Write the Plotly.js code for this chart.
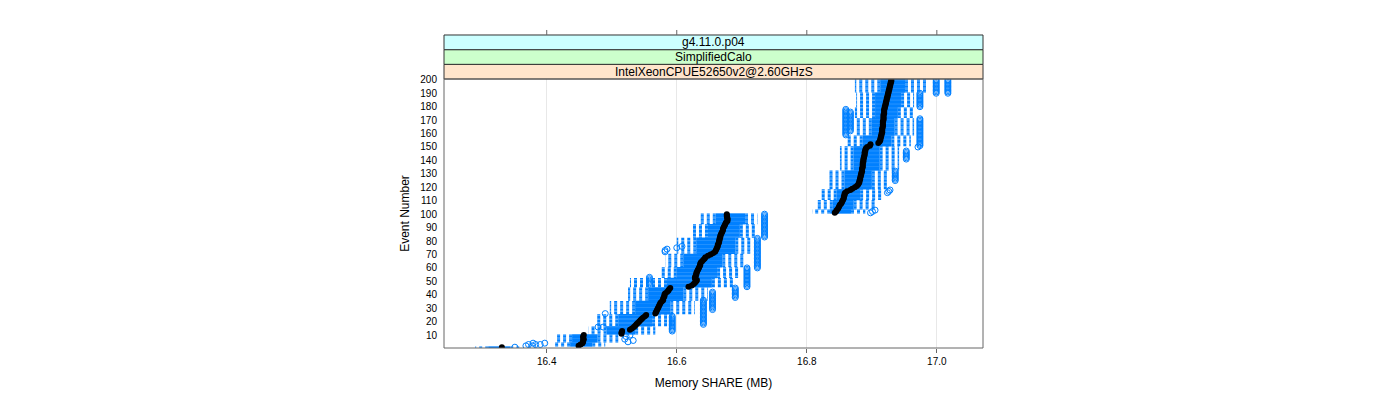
<!DOCTYPE html>
<html><head><meta charset="utf-8">
<script src="https://cdn.plot.ly/plotly-3.0.1.min.js"></script>
<style>html,body{margin:0;padding:0;background:#fff}</style>
</head><body><div id="chart" style="width:1400px;height:400px"></div>
<script>
const stripLabels = ["IntelXeonCPUE52650v2@2.60GHzS", "SimplifiedCalo", "g4.11.0.p04"];
const xTickVals = [16.4, 16.6, 16.8, 17.0];
const xTickText = ["16.4", "16.6", "16.8", "17.0"];
const yTickVals = [10,20,30,40,50,60,70,80,90,100,110,120,130,140,150,160,170,180,190,200];

const eventNumber = [
 1,2,3,4,5,6,7,8,9,10,11,12,13,14,15,16,17,18,19,20,
 21,22,23,24,25,26,27,28,29,30,31,32,33,34,35,36,37,38,39,40,
 41,42,43,44,45,46,47,48,49,50,51,52,53,54,55,56,57,58,59,60,
 61,62,63,64,65,66,67,68,69,70,71,72,73,74,75,76,77,78,79,80,
 81,82,83,84,85,86,87,88,89,90,91,92,93,94,95,96,97,98,99,100,
 101,102,103,104,105,106,107,108,109,110,111,112,113,114,115,116,117,118,119,120,
 121,122,123,124,125,126,127,128,129,130,131,132,133,134,135,136,137,138,139,140,
 141,142,143,144,145,146,147,148,149,150,151,152,153,154,155,156,157,158,159,160,
 161,162,163,164,165,166,167,168,169,170,171,172,173,174,175,176,177,178,179,180,
 181,182,183,184,185,186,187,188,189,190,191,192,193,194,195,196,197,198,199,200];

const median = [
 16.331,16.449,16.452,16.455,16.456,16.456,16.457,16.456,16.456,16.457,
 16.515,16.515,16.516,16.528,16.531,16.534,16.536,16.538,16.540,16.542,
 16.544,16.546,16.548,16.551,16.553,16.567,16.568,16.569,16.570,16.571,
 16.572,16.573,16.574,16.575,16.577,16.579,16.579,16.580,16.581,16.581,
 16.582,16.585,16.587,16.588,16.590,16.618,16.623,16.626,16.628,16.630,
 16.631,16.628,16.628,16.629,16.630,16.630,16.631,16.632,16.633,16.634,
 16.635,16.636,16.636,16.637,16.639,16.641,16.643,16.644,16.648,16.652,
 16.656,16.659,16.660,16.661,16.662,16.663,16.663,16.664,16.665,16.665,
 16.666,16.666,16.667,16.667,16.668,16.669,16.670,16.671,16.671,16.672,
 16.673,16.674,16.675,16.676,16.678,16.678,16.678,16.677,16.677,16.677,
 16.843,16.845,16.846,16.848,16.849,16.850,16.851,16.853,16.854,16.855,
 16.856,16.857,16.857,16.858,16.858,16.859,16.862,16.867,16.870,16.874,
 16.877,16.879,16.880,16.881,16.881,16.882,16.882,16.883,16.883,16.884,
 16.884,16.885,16.885,16.885,16.886,16.886,16.886,16.886,16.887,16.887,
 16.887,16.888,16.888,16.889,16.889,16.889,16.890,16.890,16.891,16.893,
 16.897,16.898,16.910,16.912,16.913,16.913,16.914,16.914,16.915,16.915,
 16.916,16.916,16.916,16.916,16.917,16.917,16.917,16.917,16.917,16.918,
 16.918,16.918,16.918,16.918,16.919,16.919,16.919,16.919,16.920,16.920,
 16.921,16.921,16.922,16.922,16.923,16.923,16.924,16.924,16.925,16.925,
 16.926,16.926,16.927,16.927,16.928,16.928,16.929,16.929,16.930,16.930];

const q1 = [
 16.310,16.436,16.436,16.436,16.439,16.439,16.439,16.439,16.439,16.439,
 16.492,16.492,16.492,16.492,16.492,16.492,16.510,16.510,16.510,16.510,
 16.510,16.510,16.510,16.510,16.510,16.536,16.536,16.536,16.536,16.536,
 16.536,16.536,16.536,16.536,16.536,16.556,16.556,16.556,16.556,16.556,
 16.556,16.556,16.556,16.556,16.556,16.585,16.585,16.585,16.585,16.585,
 16.585,16.585,16.600,16.600,16.600,16.600,16.600,16.600,16.600,16.600,
 16.610,16.610,16.610,16.610,16.610,16.610,16.610,16.610,16.610,16.610,
 16.630,16.630,16.630,16.630,16.630,16.630,16.630,16.630,16.630,16.630,
 16.630,16.630,16.648,16.648,16.648,16.648,16.648,16.648,16.648,16.648,
 16.648,16.648,16.660,16.660,16.660,16.660,16.660,16.660,16.660,16.660,
 16.836,16.836,16.836,16.840,16.840,16.840,16.840,16.840,16.840,16.840,
 16.846,16.846,16.846,16.846,16.846,16.846,16.846,16.846,16.858,16.858,
 16.858,16.858,16.858,16.858,16.858,16.858,16.858,16.858,16.858,16.858,
 16.858,16.858,16.872,16.872,16.872,16.872,16.872,16.872,16.872,16.872,
 16.872,16.872,16.872,16.872,16.872,16.872,16.872,16.872,16.872,16.872,
 16.886,16.886,16.886,16.886,16.886,16.886,16.886,16.886,16.900,16.900,
 16.900,16.900,16.900,16.900,16.900,16.900,16.900,16.900,16.900,16.900,
 16.900,16.905,16.905,16.905,16.905,16.905,16.905,16.905,16.905,16.905,
 16.905,16.905,16.905,16.905,16.905,16.905,16.905,16.905,16.905,16.905,
 16.913,16.913,16.913,16.913,16.913,16.913,16.913,16.913,16.913,16.913];

const q3 = [
 16.344,16.470,16.470,16.470,16.478,16.478,16.478,16.478,16.478,16.478,
 16.536,16.536,16.536,16.536,16.536,16.536,16.562,16.562,16.562,16.562,
 16.562,16.562,16.562,16.562,16.562,16.590,16.590,16.590,16.590,16.590,
 16.590,16.590,16.590,16.590,16.590,16.610,16.610,16.610,16.610,16.610,
 16.610,16.610,16.610,16.610,16.610,16.654,16.654,16.654,16.654,16.654,
 16.654,16.654,16.662,16.662,16.662,16.662,16.662,16.662,16.662,16.662,
 16.670,16.670,16.670,16.670,16.670,16.670,16.670,16.670,16.670,16.670,
 16.690,16.690,16.690,16.690,16.690,16.690,16.690,16.690,16.690,16.690,
 16.690,16.690,16.697,16.697,16.697,16.697,16.697,16.697,16.697,16.697,
 16.697,16.697,16.705,16.705,16.705,16.705,16.705,16.705,16.705,16.705,
 16.868,16.868,16.868,16.872,16.872,16.872,16.872,16.872,16.872,16.872,
 16.882,16.882,16.882,16.882,16.882,16.882,16.882,16.882,16.900,16.900,
 16.900,16.900,16.900,16.900,16.900,16.900,16.900,16.900,16.900,16.900,
 16.900,16.900,16.912,16.912,16.912,16.912,16.912,16.912,16.912,16.912,
 16.912,16.912,16.912,16.912,16.912,16.912,16.912,16.912,16.912,16.912,
 16.930,16.930,16.930,16.930,16.930,16.930,16.930,16.930,16.935,16.935,
 16.935,16.935,16.935,16.935,16.935,16.935,16.935,16.935,16.935,16.935,
 16.935,16.940,16.940,16.940,16.940,16.940,16.940,16.940,16.940,16.945,
 16.945,16.945,16.945,16.945,16.945,16.945,16.945,16.945,16.945,16.945,
 16.951,16.951,16.951,16.951,16.951,16.951,16.951,16.951,16.951,16.951];

const lowerWhisker = [
 16.290,16.410,16.410,16.410,16.413,16.413,16.413,16.413,16.413,16.413,
 16.464,16.464,16.464,16.464,16.464,16.464,16.474,16.474,16.474,16.474,
 16.474,16.474,16.474,16.474,16.474,16.497,16.497,16.497,16.497,16.497,
 16.497,16.497,16.497,16.497,16.497,16.525,16.525,16.525,16.525,16.525,
 16.525,16.525,16.525,16.525,16.525,16.528,16.528,16.528,16.528,16.528,
 16.528,16.528,16.574,16.574,16.574,16.574,16.574,16.574,16.574,16.574,
 16.582,16.582,16.582,16.582,16.582,16.582,16.582,16.582,16.582,16.582,
 16.600,16.600,16.600,16.600,16.600,16.600,16.600,16.600,16.600,16.600,
 16.600,16.600,16.625,16.625,16.625,16.625,16.625,16.625,16.625,16.625,
 16.625,16.625,16.636,16.636,16.636,16.636,16.636,16.636,16.636,16.636,
 16.808,16.808,16.808,16.816,16.816,16.816,16.816,16.816,16.816,16.816,
 16.822,16.822,16.822,16.822,16.822,16.822,16.822,16.822,16.833,16.833,
 16.833,16.833,16.833,16.833,16.833,16.833,16.833,16.833,16.833,16.833,
 16.833,16.833,16.851,16.851,16.851,16.851,16.851,16.851,16.851,16.851,
 16.851,16.851,16.851,16.851,16.851,16.851,16.851,16.851,16.851,16.851,
 16.862,16.862,16.862,16.862,16.862,16.862,16.862,16.862,16.874,16.874,
 16.874,16.874,16.874,16.874,16.874,16.874,16.874,16.874,16.874,16.874,
 16.874,16.874,16.874,16.874,16.874,16.874,16.874,16.874,16.874,16.876,
 16.876,16.876,16.876,16.876,16.876,16.876,16.876,16.876,16.876,16.876,
 16.874,16.874,16.874,16.874,16.874,16.874,16.874,16.874,16.874,16.874];

const upperWhisker = [
 16.360,16.490,16.490,16.490,16.510,16.510,16.510,16.510,16.510,16.510,
 16.567,16.567,16.567,16.567,16.567,16.567,16.593,16.593,16.593,16.593,
 16.593,16.593,16.593,16.593,16.593,16.628,16.628,16.628,16.628,16.628,
 16.628,16.628,16.628,16.628,16.628,16.648,16.648,16.648,16.648,16.648,
 16.648,16.648,16.648,16.648,16.648,16.690,16.690,16.690,16.690,16.690,
 16.690,16.690,16.697,16.697,16.697,16.697,16.697,16.697,16.697,16.697,
 16.705,16.705,16.705,16.705,16.705,16.705,16.705,16.705,16.705,16.705,
 16.713,16.713,16.713,16.713,16.713,16.713,16.713,16.713,16.713,16.713,
 16.713,16.713,16.720,16.720,16.720,16.720,16.720,16.720,16.720,16.720,
 16.720,16.720,16.724,16.724,16.724,16.724,16.724,16.724,16.724,16.724,
 16.890,16.890,16.890,16.905,16.905,16.905,16.905,16.905,16.905,16.905,
 16.915,16.915,16.915,16.915,16.915,16.915,16.915,16.915,16.925,16.925,
 16.925,16.925,16.925,16.925,16.925,16.925,16.925,16.925,16.925,16.925,
 16.925,16.925,16.942,16.942,16.942,16.942,16.942,16.942,16.942,16.942,
 16.942,16.942,16.942,16.942,16.942,16.942,16.942,16.942,16.942,16.942,
 16.960,16.960,16.960,16.960,16.960,16.960,16.960,16.960,16.965,16.965,
 16.965,16.965,16.965,16.965,16.965,16.965,16.965,16.965,16.965,16.965,
 16.965,16.967,16.967,16.967,16.967,16.967,16.967,16.967,16.967,16.965,
 16.965,16.965,16.965,16.965,16.965,16.965,16.965,16.965,16.965,16.965,
 16.987,16.987,16.987,16.987,16.987,16.987,16.987,16.987,16.987,16.987];

const outlierEvent = [
 1,2,2,3,3,3,4,4,5,6,7,9,10,
 13,14,15,16,17,18,19,20,21,22,23,24,
 16,16,26,
 18,19,20,21,22,23,24,25,26,27,28,29,30,31,32,33,34,35,36,
 29,30,31,32,33,34,35,36,37,38,39,40,41,42,
 38,39,40,41,42,43,44,45,
 46,47,48,49,50,51,52,53,54,55,56,57,58,59,60,
 48,49,50,51,52,53,
 60,61,62,63,64,65,66,67,68,69,70,71,72,73,74,75,76,77,78,79,80,81,82,
 72,73,74,75,76,
 83,84,85,86,87,88,89,90,91,92,93,94,95,96,97,98,99,100,
 101,102,103,116,117,118,
 125,126,127,128,129,130,131,132,
 141,142,143,144,145,146,147,150,
 151,152,153,154,155,156,157,158,159,160,161,162,163,164,165,166,167,168,169,170,171,
 159,160,161,162,163,164,165,166,167,168,169,170,171,172,173,174,175,176,177,178,
 162,163,164,165,166,167,168,169,170,171,172,173,174,175,176,
 180,181,182,183,184,185,186,187,188,189,190,
 190,191,192,193,194,195,196,197,198,199,200,
 190,191,192,193,194,195,196,197,198,199,200];

const outlierValue = [
 16.351,16.368,16.378,16.372,16.383,16.390,16.379,16.397,16.525,16.533,16.520,16.522,16.528,
 16.593,16.593,16.593,16.593,16.593,16.593,16.593,16.593,16.593,16.593,16.593,16.593,
 16.479,16.487,16.490,
 16.641,16.641,16.641,16.641,16.641,16.641,16.641,16.641,16.641,16.641,16.641,16.641,16.641,16.641,16.641,16.641,16.641,16.641,16.641,
 16.655,16.655,16.655,16.655,16.655,16.655,16.655,16.655,16.655,16.655,16.655,16.655,16.655,16.655,
 16.690,16.690,16.690,16.690,16.690,16.690,16.690,16.690,
 16.708,16.708,16.708,16.708,16.708,16.708,16.708,16.708,16.708,16.708,16.708,16.708,16.708,16.708,16.708,
 16.558,16.558,16.558,16.558,16.558,16.558,
 16.724,16.724,16.724,16.724,16.724,16.724,16.724,16.724,16.724,16.724,16.724,16.724,16.724,16.724,16.724,16.724,16.724,16.724,16.724,16.724,16.724,16.724,16.724,
 16.582,16.582,16.585,16.600,16.608,
 16.735,16.735,16.735,16.735,16.735,16.735,16.735,16.735,16.735,16.735,16.735,16.735,16.735,16.735,16.735,16.735,16.735,16.735,
 16.898,16.901,16.905,16.924,16.926,16.928,
 16.936,16.936,16.936,16.936,16.936,16.936,16.936,16.936,
 16.953,16.953,16.953,16.953,16.953,16.953,16.953,16.971,
 16.974,16.974,16.974,16.974,16.974,16.974,16.974,16.974,16.974,16.974,16.974,16.974,16.974,16.974,16.974,16.974,16.974,16.974,16.974,16.974,16.974,
 16.860,16.860,16.860,16.860,16.860,16.860,16.860,16.860,16.860,16.860,16.860,16.860,16.860,16.860,16.860,16.860,16.860,16.860,16.860,16.860,
 16.867,16.867,16.867,16.867,16.867,16.867,16.867,16.867,16.867,16.867,16.867,16.867,16.867,16.867,16.867,
 16.974,16.974,16.974,16.974,16.974,16.974,16.974,16.974,16.974,16.974,16.974,
 16.999,16.999,16.999,16.999,16.999,16.999,16.999,16.999,16.999,16.999,16.999,
 17.017,17.017,17.017,17.017,17.017,17.017,17.017,17.017,17.017,17.017,17.017];

const BLUE = '#0080ff';
const wx = [], wy = [], bx = [], by = [];
for (let i = 0; i < eventNumber.length; i++) {
  const e = eventNumber[i];
  wx.push(q1[i], lowerWhisker[i], null, q3[i], upperWhisker[i], null);
  wy.push(e, e, null, e, e, null);
  bx.push(q1[i], q3[i], null);
  by.push(e, e, null);
}

const traces = [
  {type:'scatter', mode:'lines', x:wx, y:wy, line:{color:BLUE, width:1.25, dash:'3px,3px'}, hoverinfo:'skip'},
  {type:'scatter', mode:'lines', x:bx, y:by, line:{color:BLUE, width:1.7}, hoverinfo:'skip'},
  {type:'scatter', mode:'markers', x:outlierValue, y:outlierEvent,
   marker:{symbol:'circle-open', size:6, color:BLUE, line:{width:1, color:BLUE}}, hoverinfo:'skip'},
  {type:'scatter', mode:'markers', x:median, y:eventNumber,
   marker:{symbol:'circle', size:6, color:'#000'}, hoverinfo:'skip'}
];

const plotH = 269;
const sh = 14.67 / plotH;
const stripFill = ['#ffe5cc', '#ccffcc', '#ccffff'];
const shapes = [];
const annotations = [];
for (let k = 0; k < 3; k++) {
  shapes.push({type:'rect', xref:'paper', yref:'paper', x0:0, x1:1, y0:1 + k*sh, y1:1 + (k+1)*sh,
    fillcolor:stripFill[k], line:{color:'#333', width:1}, layer:'above'});
  annotations.push({xref:'paper', yref:'paper', x:0.5, y:1 + (k+0.5)*sh, text:stripLabels[k],
    showarrow:false, xanchor:'center', yanchor:'middle', font:{size:12, color:'#000'}});
}
shapes.push({type:'rect', xref:'paper', yref:'paper', x0:0, x1:1, y0:0, y1:1,
  line:{color:'#666', width:1}, fillcolor:'rgba(0,0,0,0)', layer:'above'});
xTickVals.forEach(v => {
  shapes.push({type:'line', xref:'x', yref:'paper', x0:v, x1:v, y0:1 + 3*sh, y1:1 + 3*sh + 5/plotH,
    line:{color:'#666', width:1}});
});

const layout = {
  width:1400, height:400,
  margin:{l:444, r:417, t:79, b:52, pad:0},
  paper_bgcolor:'#fff', plot_bgcolor:'#fff',
  showlegend:false,
  font:{family:'"Liberation Sans", Arial, Helvetica, sans-serif', size:10, color:'#000'},
  xaxis:{range:[16.242, 17.071], tickvals:xTickVals, ticktext:xTickText, ticks:'outside', ticklen:4,
    tickcolor:'#666', showgrid:true, gridcolor:'#e8e8e8', gridwidth:1, zeroline:false, showline:false,
    tickfont:{size:10}, automargin:false,
    title:{text:'Memory SHARE (MB)', font:{size:12}, standoff:12}},
  yaxis:{range:[0.4, 200.6], tickvals:yTickVals, ticks:'outside', ticklen:4, tickcolor:'rgba(0,0,0,0)',
    showgrid:false, zeroline:false, showline:false, tickfont:{size:10}, automargin:false,
    title:{text:'Event Number', font:{size:12}, standoff:8}},
  shapes:shapes,
  annotations:annotations
};

Plotly.newPlot('chart', traces, layout, {staticPlot:true, displayModeBar:false});
</script>
</body></html>
